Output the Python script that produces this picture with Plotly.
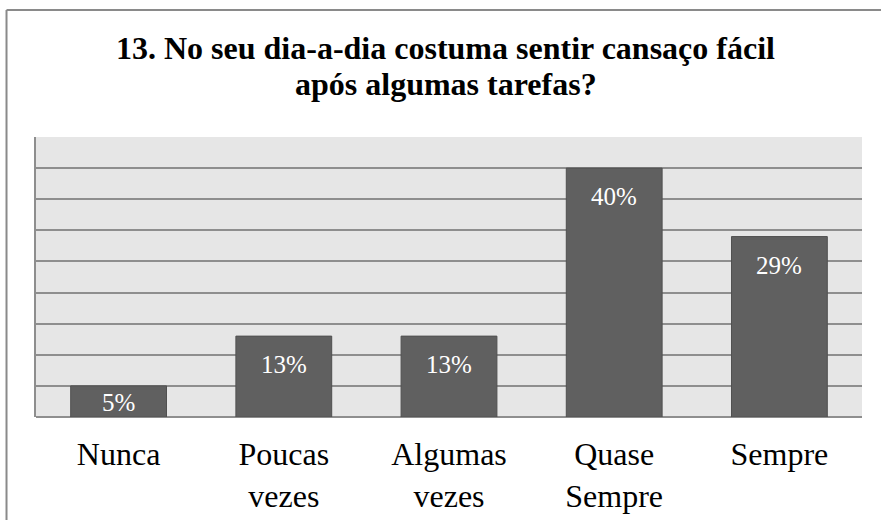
import plotly.graph_objects as go

# Survey answers and their shares (%)
categories = ["Nunca", "Poucas<br>vezes", "Algumas<br>vezes", "Quase<br>Sempre", "Sempre"]
shares = [5, 13, 13, 40, 29]
value_labels = ["5%", "13%", "13%", "40%", "29%"]

title_lines = ["13. No seu dia-a-dia costuma sentir cansaço fácil",
               "após algumas tarefas?"]

SERIF = "Liberation Serif"
BAR = "#606060"
GRID = "#8e8e8e"

fig = go.Figure(
    go.Bar(
        x=categories,
        y=shares,
        marker=dict(color=BAR, line=dict(color="#505050", width=1)),
        hoverinfo="skip",
    )
)

# Value labels inside the top of each bar (centred when the bar is short)
Y_MAX = 45
PLOT_H = 280
for cat, v, lab in zip(categories, shares, value_labels):
    bar_px = v / Y_MAX * PLOT_H
    if bar_px < 60:
        fig.add_annotation(x=cat, y=v / 2, text=lab, showarrow=False,
                           yanchor="middle", yshift=-1,
                           font=dict(family=SERIF, size=25, color="white"))
    else:
        fig.add_annotation(x=cat, y=v, text=lab, showarrow=False,
                           yanchor="top", yshift=-13,
                           font=dict(family=SERIF, size=25, color="white"))

# Two-line bold heading with tight line spacing
for line, ypos in zip(title_lines, [1.318, 1.189]):
    fig.add_annotation(xref="paper", yref="paper", x=0.4958, y=ypos,
                       text=f"<b>{line}</b>", showarrow=False,
                       xanchor="center", yanchor="middle",
                       font=dict(family=SERIF, size=32, color="black"))

# Outer chart frame (left and top edges)
fig.add_shape(type="line", xref="paper", yref="paper",
              x0=-0.0357, x1=-0.0357, y0=-0.4, y1=1.4536,
              line=dict(color="#8a8a8a", width=2))
fig.add_shape(type="line", xref="paper", yref="paper",
              x0=-0.0357, x1=1.05, y0=1.4536, y1=1.4536,
              line=dict(color="#8a8a8a", width=2))

fig.update_layout(
    width=881,
    height=520,
    margin=dict(l=36, r=19, t=137, b=103),
    paper_bgcolor="white",
    plot_bgcolor="#e6e6e6",
    bargap=0.42,
    showlegend=False,
    xaxis=dict(
        automargin=False,
        showgrid=False,
        showline=False,
        ticks="",
        tickfont=dict(family=SERIF, size=32, color="black"),
        ticklabelstandoff=15,
    ),
    yaxis=dict(
        automargin=False,
        range=[0, Y_MAX],
        dtick=5,
        showticklabels=False,
        showgrid=True,
        gridcolor=GRID,
        gridwidth=2,
        zeroline=True,
        zerolinecolor=GRID,
        zerolinewidth=2,
        showline=True,
        linecolor=GRID,
        linewidth=2,
        ticks="",
        fixedrange=True,
    ),
)

fig.write_html("out.html")
